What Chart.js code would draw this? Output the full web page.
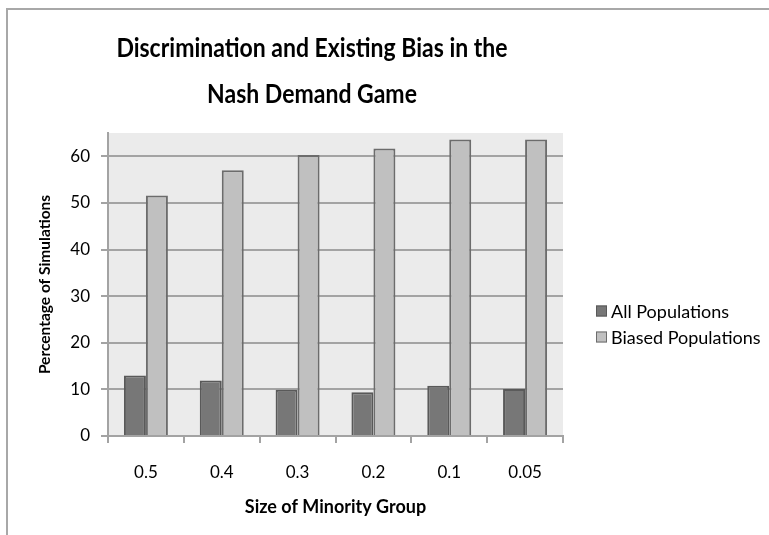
<!DOCTYPE html>
<html>
<head>
<meta charset="utf-8">
<style>
  html, body { margin: 0; padding: 0; background: #ffffff; }
  #wrap { width: 769px; height: 535px; }
</style>
<script src="https://cdn.jsdelivr.net/npm/chart.js@4/dist/chart.umd.min.js"></script>
</head>
<body>
<div id="wrap"><canvas id="chart" width="769" height="535"></canvas></div>
<script>
// Size of minority group (x categories)
const categories = ['0.5', '0.4', '0.3', '0.2', '0.1', '0.05'];
// Percentage of simulations ending in discrimination
const allPopulations = [13.0, 11.9, 9.9, 9.4, 10.8, 10.1];
const biasedPopulations = [51.6, 57.0, 60.3, 61.7, 63.6, 63.6];
// Labelled y-axis values
const yTicks = [0, 10, 20, 30, 40, 50, 60];
const yMax = 65;

const titleLines = ['Discrimination and Existing Bias in the', 'Nash Demand Game'];
const FONT = 'Lato, "Open Sans", sans-serif';
const GRID = '#a3a3a3';

// White page with a grey frame along the top and left edges
const framePlugin = {
  id: 'frame',
  beforeDraw(chart) {
    const ctx = chart.ctx;
    ctx.save();
    ctx.fillStyle = '#ffffff';
    ctx.fillRect(0, 0, chart.width, chart.height);
    ctx.strokeStyle = '#a8a8a8';
    ctx.lineWidth = 2;
    ctx.beginPath();
    ctx.moveTo(7, chart.height);
    ctx.lineTo(7, 9);
    ctx.lineTo(chart.width, 9);
    ctx.stroke();
    // plot area background
    const a = chart.chartArea;
    ctx.fillStyle = '#ebebeb';
    ctx.fillRect(a.left, a.top, a.right - a.left, a.bottom - a.top);
    ctx.restore();
  }
};

// Two-line bold chart title, slightly tall letterforms
const titlePlugin = {
  id: 'twoLineTitle',
  afterDraw(chart) {
    const ctx = chart.ctx;
    ctx.save();
    ctx.font = 'bold 23px ' + FONT;
    ctx.fillStyle = '#000000';
    ctx.textAlign = 'center';
    ctx.textBaseline = 'alphabetic';
    [57, 103].forEach((baseY, i) => {
      ctx.save();
      ctx.translate(312, baseY);
      ctx.scale(1, 1.17);
      ctx.fillText(titleLines[i], 0, 0);
      ctx.restore();
    });
    ctx.restore();
  }
};

// Legend to the right of the plot area, built from the datasets
const sideLegend = {
  id: 'sideLegend',
  afterDraw(chart) {
    const ctx = chart.ctx;
    ctx.save();
    ctx.font = '18px ' + FONT;
    ctx.textBaseline = 'middle';
    ctx.textAlign = 'left';
    chart.data.datasets.forEach((ds, i) => {
      const cy = 311 + i * 26;
      ctx.fillStyle = ds.backgroundColor;
      ctx.fillRect(596, cy - 5.5, 11, 11);
      ctx.strokeStyle = ds.borderColor;
      ctx.lineWidth = 1;
      ctx.strokeRect(596.5, cy - 5, 10, 10);
      ctx.fillStyle = '#000000';
      ctx.fillText(ds.label, 611, cy + 1);
    });
    ctx.restore();
  }
};

new Chart(document.getElementById('chart'), {
  type: 'bar',
  data: {
    labels: categories,
    datasets: [
      {
        label: 'All Populations',
        data: allPopulations,
        backgroundColor: '#777777',
        borderColor: '#595959',
        borderWidth: 2,
        borderSkipped: 'bottom'
      },
      {
        label: 'Biased Populations',
        data: biasedPopulations,
        backgroundColor: '#c0c0c0',
        borderColor: '#6c6c6c',
        borderWidth: 2,
        borderSkipped: 'bottom'
      }
    ]
  },
  options: {
    responsive: false,
    animation: false,
    events: [],
    layout: { padding: { top: 133, left: 8, right: 206, bottom: 0 } },
    datasets: { bar: { categoryPercentage: 0.58, barPercentage: 1.0 } },
    plugins: {
      legend: { display: false },
      title: { display: false },
      tooltip: { enabled: false }
    },
    scales: {
      x: {
        grid: {
          display: true,
          drawOnChartArea: false,
          drawTicks: true,
          tickLength: 7,
          color: GRID,
          lineWidth: 2,
          offset: true
        },
        border: { display: true, color: GRID, width: 2 },
        ticks: { color: '#000000', font: { family: FONT, size: 17 }, padding: 19, maxRotation: 0 },
        title: {
          display: true,
          text: 'Size of Minority Group',
          color: '#000000',
          font: { family: FONT, size: 18, weight: 'bold' },
          padding: { top: 0, bottom: 17 }
        },
        afterFit(s) { s.height = 99; s.paddingLeft = 0; s.paddingRight = 0; }
      },
      y: {
        min: 0,
        max: yMax,
        grid: {
          color: GRID,
          lineWidth: 2,
          drawTicks: true,
          tickLength: 7
        },
        border: { display: true, color: GRID, width: 2 },
        ticks: { color: '#000000', font: { family: FONT, size: 17 }, padding: 11 },
        afterBuildTicks(s) { s.ticks = yTicks.map(v => ({ value: v })); },
        title: {
          display: true,
          text: 'Percentage of Simulations',
          color: '#000000',
          font: { family: FONT, size: 15.5, weight: 'bold' },
          padding: { top: 28, bottom: 0 }
        },
        afterFit(s) { s.width = 100; s.paddingTop = 0; s.paddingBottom = 0; }
      }
    }
  },
  plugins: [framePlugin, titlePlugin, sideLegend]
});
</script>
</body>
</html>
